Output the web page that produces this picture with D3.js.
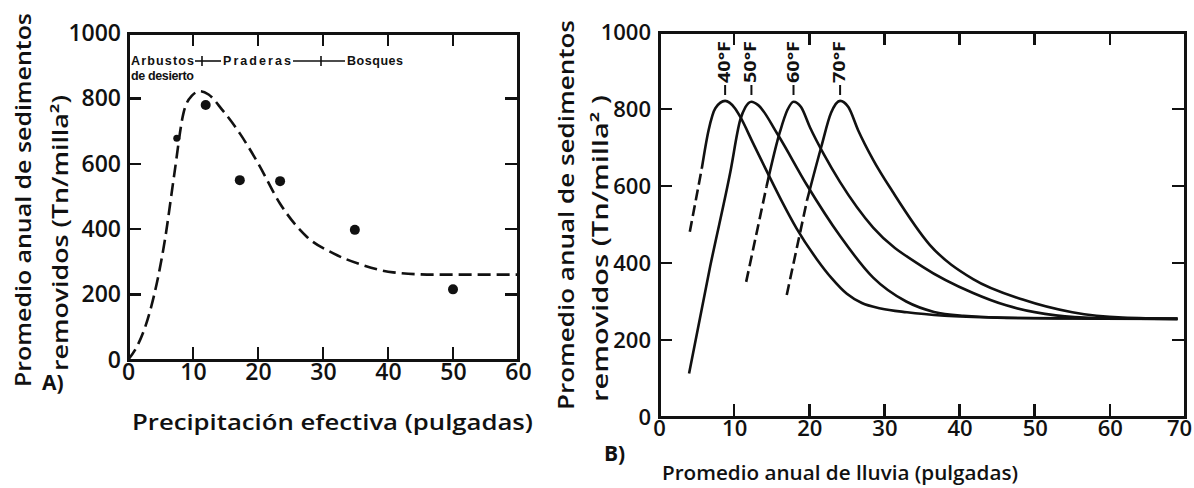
<!DOCTYPE html>
<html>
<head>
<meta charset="utf-8">
<script src="https://cdn.jsdelivr.net/npm/d3@7"></script>
<style>
  body { margin: 0; background: #fff; position: relative; }
  svg { display: block; font-family: 'Open Sans', sans-serif; }
  .title { font-size: 21px; font-weight: 600; fill: #111; }
  .edge { position: absolute; background: #111; }
</style>
</head>
<body>
<svg id="chart" width="1194" height="488"></svg>
<script>
'use strict';

// A) precipitacion efectiva -> sedimentos (puntos observados y curva a trazos)
var efectivaObs = [7.5, 11.95, 17.2, 23.4, 34.9, 50];
var sedimentoObs = [678, 780, 550, 547, 398, 216];
var efectivaCurva = [0, 1.6, 3.4, 5.7, 7.1, 8.5, 9.8, 11.1, 12.4, 14.5, 17.2, 20, 23.4, 27.5, 31.6, 35.7, 40.8, 47, 60];
var sedimentoCurva = [0, 50, 150, 370, 565, 752, 808, 822, 812, 765, 693, 602, 478, 377, 326, 293, 268, 261, 261];
var biomas = ['Praderas', 'Bosques'];

// B) lluvia anual -> sedimentos, una curva por temperatura
var temperaturas = ['40°F', '50°F', '60°F', '70°F'];
var curva40 = [[5.7, 646], [6.6, 745], [7.5, 802], [8.8, 821], [10.1, 802], [10.8, 780], [12.5, 712], [14.5, 632], [16.3, 562], [18.3, 490], [21, 410], [23, 360], [25, 320], [27, 296], [29.5, 282], [33, 272], [38, 263], [45, 258], [55, 256], [69, 255]];
var curva50 = [[4, 113], [6.8, 390], [9.5, 637], [10.8, 771], [11.5, 805], [12.3, 819], [13.2, 810], [15.7, 737], [19.7, 602], [24.1, 470], [28.5, 362], [32.9, 300], [36.6, 273], [40.5, 263], [48, 257], [69, 255]];
var curva60 = [[14.3, 598], [16.1, 741], [17.1, 798], [17.9, 819], [18.9, 805], [20.1, 752], [22, 680], [24.1, 610], [28.5, 492], [35.1, 390], [41.8, 322], [46.2, 290], [52.8, 264], [58, 257], [69, 255]];
var curva70 = [[19.7, 563], [21.6, 702], [22.9, 790], [24.1, 821], [25.2, 805], [26.5, 745], [28.5, 668], [31.1, 585], [36, 448], [41.8, 358], [48.4, 305], [55, 272], [61.7, 258], [69, 255]];
var trazos40 = [[4.1, 481], [5.7, 646]];
var trazos50 = [];
var trazos60 = [[11.6, 351], [14.3, 598]];
var trazos70 = [[17, 317], [19.7, 563]];

var ticksSedimento = [0, 200, 400, 600, 800, 1000];
var ticksEfectiva = [0, 10, 20, 30, 40, 50, 60];
var ticksLluvia = [0, 10, 20, 30, 40, 50, 60, 70];

(function (d3) {

  var svg = d3.select('#chart');
  var ink = '#111';

  var xA = d3.scaleLinear().domain([0, 60]).range([128, 518]);
  var yA = d3.scaleLinear().domain([0, 1000]).range([360, 33]);
  var xB = d3.scaleLinear().domain([0, 70]).range([659, 1185]);
  var yB = d3.scaleLinear().domain([0, 1000]).range([417, 32]);

  var axisLabels = function (x, y, xTicks, opts) {
    var y0 = y.range()[0];
    var x0 = x.range()[0];
    svg.append('g')
        .attr('transform', 'translate(0,' + y0 + ')')
        .call(d3.axisBottom(x).tickValues(xTicks).tickSize(0).tickPadding(opts.bottom).tickFormat(d3.format('d')))
        .call(function (a) { a.select('.domain').remove(); a.selectAll('.tick line').remove(); })
        .selectAll('text')
        .attr('dx', function (d) { return d === xTicks[xTicks.length - 1] ? opts.lastShift : 0; })
        .style('font-size', opts.font + 'px').style('font-weight', 600).style('fill', ink)
        .style('font-family', "'Open Sans', sans-serif");
    svg.append('g')
        .attr('transform', 'translate(' + x0 + ',0)')
        .call(d3.axisLeft(y).tickValues(ticksSedimento).tickSize(0).tickPadding(opts.left).tickFormat(d3.format('d')))
        .call(function (a) { a.select('.domain').remove(); a.selectAll('.tick line').remove(); })
        .selectAll('text')
        .style('font-size', opts.font + 'px').style('font-weight', 600).style('fill', ink)
        .style('font-family', "'Open Sans', sans-serif");
  };

  // marco y marcas hacia adentro (cajas negras sobre la pagina)
  var drawFrame = function (x, y, xTicks, topCount) {
    var x0 = x.range()[0], x1 = x.range()[1];
    var y0 = y.range()[0], y1 = y.range()[1];
    var innerX = xTicks.slice(1, -1);
    var innerY = ticksSedimento.slice(1, -1);
    var w = 3, t = 2.5, len = 13;

    var boxes = [].concat(
      [[x0 - w / 2, y1 - w / 2, x1 - x0 + w, w],
       [x0 - w / 2, y0 - w / 2, x1 - x0 + w, w],
       [x0 - w / 2, y1 - w / 2, w, y0 - y1 + w],
       [x1 - w / 2, y1 - w / 2, w, y0 - y1 + w]],
      innerX.map(function (d) { return [x(d) - t / 2, y0 - len, t, len]; }),
      innerX.slice(0, topCount).map(function (d) { return [x(d) - t / 2, y1, t, len]; }),
      innerY.map(function (d) { return [x0, y(d) - t / 2, len, t]; }),
      innerY.map(function (d) { return [x1 - len, y(d) - t / 2, len, t]; })
    );

    d3.select('body').selectAll(null)
        .data(boxes)
      .enter().append('div')
        .attr('class', 'edge')
        .style('left', function (d) { return d[0] + 'px'; })
        .style('top', function (d) { return d[1] + 'px'; })
        .style('width', function (d) { return d[2] + 'px'; })
        .style('height', function (d) { return d[3] + 'px'; });
  };

  var yTitle = function (cx1, cx2, bottom1, bottom2, len1, len2, line2) {
    svg.append('text').attr('class', 'title')
        .attr('transform', 'translate(' + cx1 + ',' + bottom1 + ') rotate(-90)')
        .attr('dominant-baseline', 'central')
        .attr('textLength', len1).attr('lengthAdjust', 'spacingAndGlyphs')
        .text('Promedio anual de sedimentos');
    svg.append('text').attr('class', 'title')
        .attr('transform', 'translate(' + cx2 + ',' + bottom2 + ') rotate(-90)')
        .attr('dominant-baseline', 'central')
        .attr('textLength', len2).attr('lengthAdjust', 'spacingAndGlyphs')
        .text(line2);
  };

  // ---------- panel A ----------
  drawFrame(xA, yA, ticksEfectiva, 5);
  axisLabels(xA, yA, ticksEfectiva, {bottom: 4, left: 7, font: 23, lastShift: 0});

  var lineA = d3.line()
      .x(function (d) { return xA(d[0]); })
      .y(function (d) { return yA(d[1]); })
      .curve(d3.curveMonotoneX);

  svg.append('path')
      .datum(d3.zip(efectivaCurva, sedimentoCurva))
      .attr('d', lineA)
      .style('fill', 'none')
      .style('stroke', ink)
      .style('stroke-width', '2.6px')
      .style('stroke-dasharray', '13,6');

  svg.append('g').selectAll('circle')
      .data(d3.zip(efectivaObs, sedimentoObs))
    .enter().append('circle')
      .attr('cx', function (d) { return xA(d[0]); })
      .attr('cy', function (d) { return yA(d[1]); })
      .attr('r', function (d, i) { return i === 0 ? 3.5 : 5; })
      .style('fill', ink);

  // leyenda de biomas
  var leg = svg.append('g')
      .style('font-size', '12.5px')
      .style('font-weight', 700)
      .style('fill', ink)
      .style('font-family', "'Liberation Sans', sans-serif");
  leg.append('text').attr('x', 131).attr('y', 65).attr('textLength', 63).text('Arbustos');
  leg.append('text').attr('x', 131).attr('y', 80).attr('textLength', 63).text('de desierto');
  leg.append('text').attr('x', 223).attr('y', 65).attr('textLength', 68).text(biomas[0]);
  leg.append('text').attr('x', 347).attr('y', 65).attr('textLength', 56).text(biomas[1]);
  [[195, 221], [293, 345]].forEach(function (s) {
    leg.append('line').attr('x1', s[0]).attr('x2', s[1]).attr('y1', 61).attr('y2', 61)
        .style('stroke', ink).style('stroke-width', '1.6px');
  });
  [202, 321].forEach(function (px) {
    leg.append('line').attr('x1', px).attr('x2', px).attr('y1', 56).attr('y2', 66)
        .style('stroke', ink).style('stroke-width', '1.6px');
  });

  yTitle(23, 60, 387, 371, 374, 276, 'removidos (Tn/milla²)');

  svg.append('text').attr('class', 'title')
      .attr('x', 132).attr('y', 422)
      .attr('dominant-baseline', 'central')
      .attr('textLength', 401).attr('lengthAdjust', 'spacingAndGlyphs')
      .text('Precipitación efectiva (pulgadas)');
  svg.append('text').attr('class', 'title')
      .attr('x', 42).attr('y', 382)
      .attr('dominant-baseline', 'central')
      .style('font-weight', 700)
      .text('A)');

  // ---------- panel B ----------
  drawFrame(xB, yB, ticksLluvia, 6);
  axisLabels(xB, yB, ticksLluvia, {bottom: 3, left: 8, font: 22, lastShift: -6});

  var lineB = d3.line()
      .x(function (d) { return xB(d[0]); })
      .y(function (d) { return yB(d[1]); })
      .curve(d3.curveMonotoneX);

  var curvas = [curva40, curva50, curva60, curva70];
  var trazos = [trazos40, trazos50, trazos60, trazos70];

  svg.append('g').selectAll('path')
      .data(curvas)
    .enter().append('path')
      .attr('d', lineB)
      .style('fill', 'none')
      .style('stroke', ink)
      .style('stroke-width', '2.6px');

  svg.append('g').selectAll('path')
      .data(trazos.filter(function (t) { return t.length; }))
    .enter().append('path')
      .attr('d', lineB)
      .style('fill', 'none')
      .style('stroke', ink)
      .style('stroke-width', '2.6px')
      .style('stroke-dasharray', '11,5');

  var picos = curvas.map(function (c) { return d3.greatest(c, function (d) { return d[1]; }); });

  var etiquetas = svg.append('g').selectAll('g')
      .data(picos)
    .enter().append('g')
      .attr('transform', function (d) { return 'translate(' + xB(d[0]) + ',0)'; });
  etiquetas.append('line')
      .attr('y1', 85).attr('y2', 95)
      .style('stroke', ink).style('stroke-width', '2px');
  etiquetas.append('text')
      .attr('transform', 'translate(-1,83) rotate(-90)')
      .attr('dominant-baseline', 'central')
      .attr('textLength', 42).attr('lengthAdjust', 'spacingAndGlyphs')
      .style('font-size', '16px')
      .style('font-weight', 700)
      .style('fill', ink)
      .text(function (d, i) { return temperaturas[i]; });

  yTitle(566, 600, 410, 402, 390, 307, 'removidos (Tn/milla² )');

  svg.append('text').attr('class', 'title')
      .attr('x', 662).attr('y', 472)
      .attr('dominant-baseline', 'central')
      .attr('textLength', 356).attr('lengthAdjust', 'spacingAndGlyphs')
      .style('font-size', '20px')
      .text('Promedio anual de lluvia (pulgadas)');
  svg.append('text').attr('class', 'title')
      .attr('x', 604).attr('y', 453)
      .attr('dominant-baseline', 'central')
      .style('font-weight', 700)
      .text('B)');

})(d3);
</script>
</body>
</html>
